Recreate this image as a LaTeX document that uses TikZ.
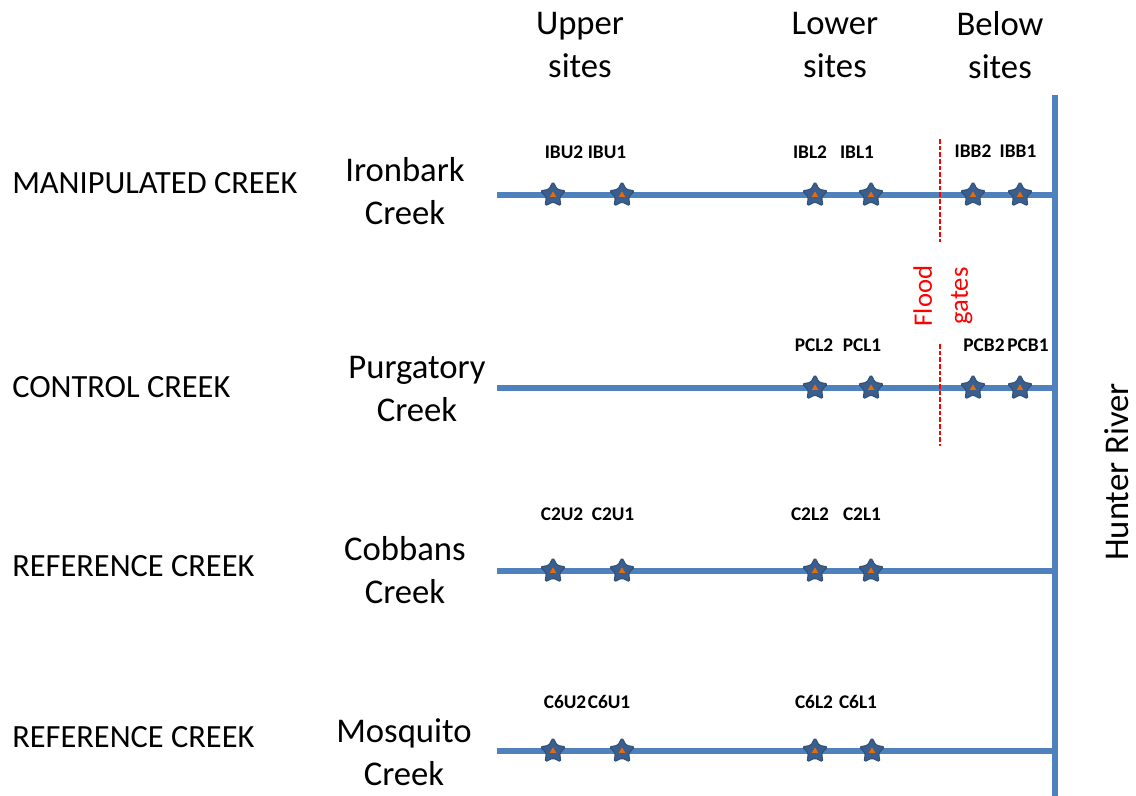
\documentclass[tikz,border=0pt]{standalone}
\usepackage{fontspec}
\setmainfont{Carlito}
\usetikzlibrary{positioning}
\usetikzlibrary{shapes.geometric}
\definecolor{riverblue}{HTML}{4F81BD}
\definecolor{stardark}{HTML}{3A5F8E}
\definecolor{starorange}{HTML}{E46C0A}

\begin{document}
\begin{tikzpicture}[x=0.75pt,y=-0.75pt,
            river/.style={draw=riverblue, line width=3.8pt},
            sitestar/.style={star, star points=5, star point ratio=1.9, fill=stardark, draw=stardark!85!black, line width=0.8pt, minimum size=20pt, inner sep=0pt, rounded corners=1.2pt},
            sitedot/.style={regular polygon, regular polygon sides=3, fill=starorange, inner sep=0pt, minimum size=5.5pt},
            sitelabel/.style={font=\bfseries\fontsize{14.5}{16}\selectfont},
            headnode/.style={align=center, font=\fontsize{26}{32}\selectfont},
            typenode/.style={anchor=west, inner sep=0pt, font=\fontsize{24.3}{26}\selectfont},
            gatenode/.style={align=center, text=red, rotate=90, font=\fontsize{20}{27}\selectfont},
        ]
            \useasboundingbox (0,0) rectangle (1136,796);

            % Headers
            \node[headnode] (upper) at (580,45) {Upper\\sites};
            \node[headnode] (lower) at (835,45) {Lower\\sites};
            \node[headnode] (below) at (1000,45) {Below\\sites};

            % Creek types and names
            \node[typenode] (manip) at (12,183) {MANIPULATED CREEK};
            \node[typenode] (control) at (12,387) {CONTROL CREEK};
            \node[typenode] (ref1) at (12,566) {REFERENCE CREEK};
            \node[typenode] (ref2) at (12,737) {REFERENCE CREEK};
            \node[headnode] (ironbark) at (405,191) {Ironbark\\Creek};
            \node[headnode] (purgatory) at (417,389) {Purgatory\\Creek};
            \node[headnode] (cobbans) at (405,570) {Cobbans\\Creek};
            \node[headnode] (mosquito) at (404,752) {Mosquito\\Creek};

            % Lines
            \coordinate (hr-top) at (1055,95);
            \coordinate (hr-bot) at (1055,796);
            \draw[river] (hr-top) -- (hr-bot);
            \foreach \c/\y in {ib/195, pc/388, cb/571, mq/751} {
                \coordinate (\c-start) at (497,\y);
                \coordinate (\c-end) at (1055,\y);
                \draw[river] (\c-start) -- (\c-end);
            }
            \node[rotate=90, font=\fontsize{26}{30}\selectfont] (hunter) at (1117,472) {Hunter River};

            % Flood gates
            \coordinate (fg-a) at (940,139);
            \coordinate (fg-b) at (940,242);
            \coordinate (fg-c) at (940,344);
            \coordinate (fg-d) at (940,446);
            \draw[red, line width=1.2pt, dash pattern=on 3.5pt off 1.5pt] (fg-a) -- (fg-b);
            \draw[red, line width=1.2pt, dash pattern=on 3.5pt off 1.5pt] (fg-c) -- (fg-d);
            \node[gatenode] (gates) at (943,296) {Flood\\gates};

            % Sites
            \foreach \n/\x/\y in {IBU2/553/195, IBU1/622/195, IBL2/815/195, IBL1/871/195, IBB2/973/195, IBB1/1020/195,
                                  PCL2/815/388, PCL1/871/388, PCB2/973/388, PCB1/1020/388,
                                  C2U2/553/571, C2U1/622/571, C2L2/815/571, C2L1/871/571,
                                  C6U2/553/751, C6U1/622/751, C6L2/815/751, C6L1/872/751} {
                \node[sitestar] (\n) at (\x,\y) {};
                \node[sitedot] at (\n.center) {};
            }
            \foreach \n/\x/\y in {IBU2/564/152, IBU1/607/152, IBL2/810/152, IBL1/857/152, IBB2/973/151, IBB1/1018/151,
                                  PCL2/814/345, PCL1/862/345, PCB2/984/345, PCB1/1028/345,
                                  C2U2/562/514, C2U1/613/514, C2L2/810/514, C2L1/862/514,
                                  C6U2/565/702, C6U1/609/702, C6L2/814/702, C6L1/858/702} {
                \node[sitelabel] (l-\n) at (\x,\y) {\n};
            }
        \end{tikzpicture}
\end{document}
